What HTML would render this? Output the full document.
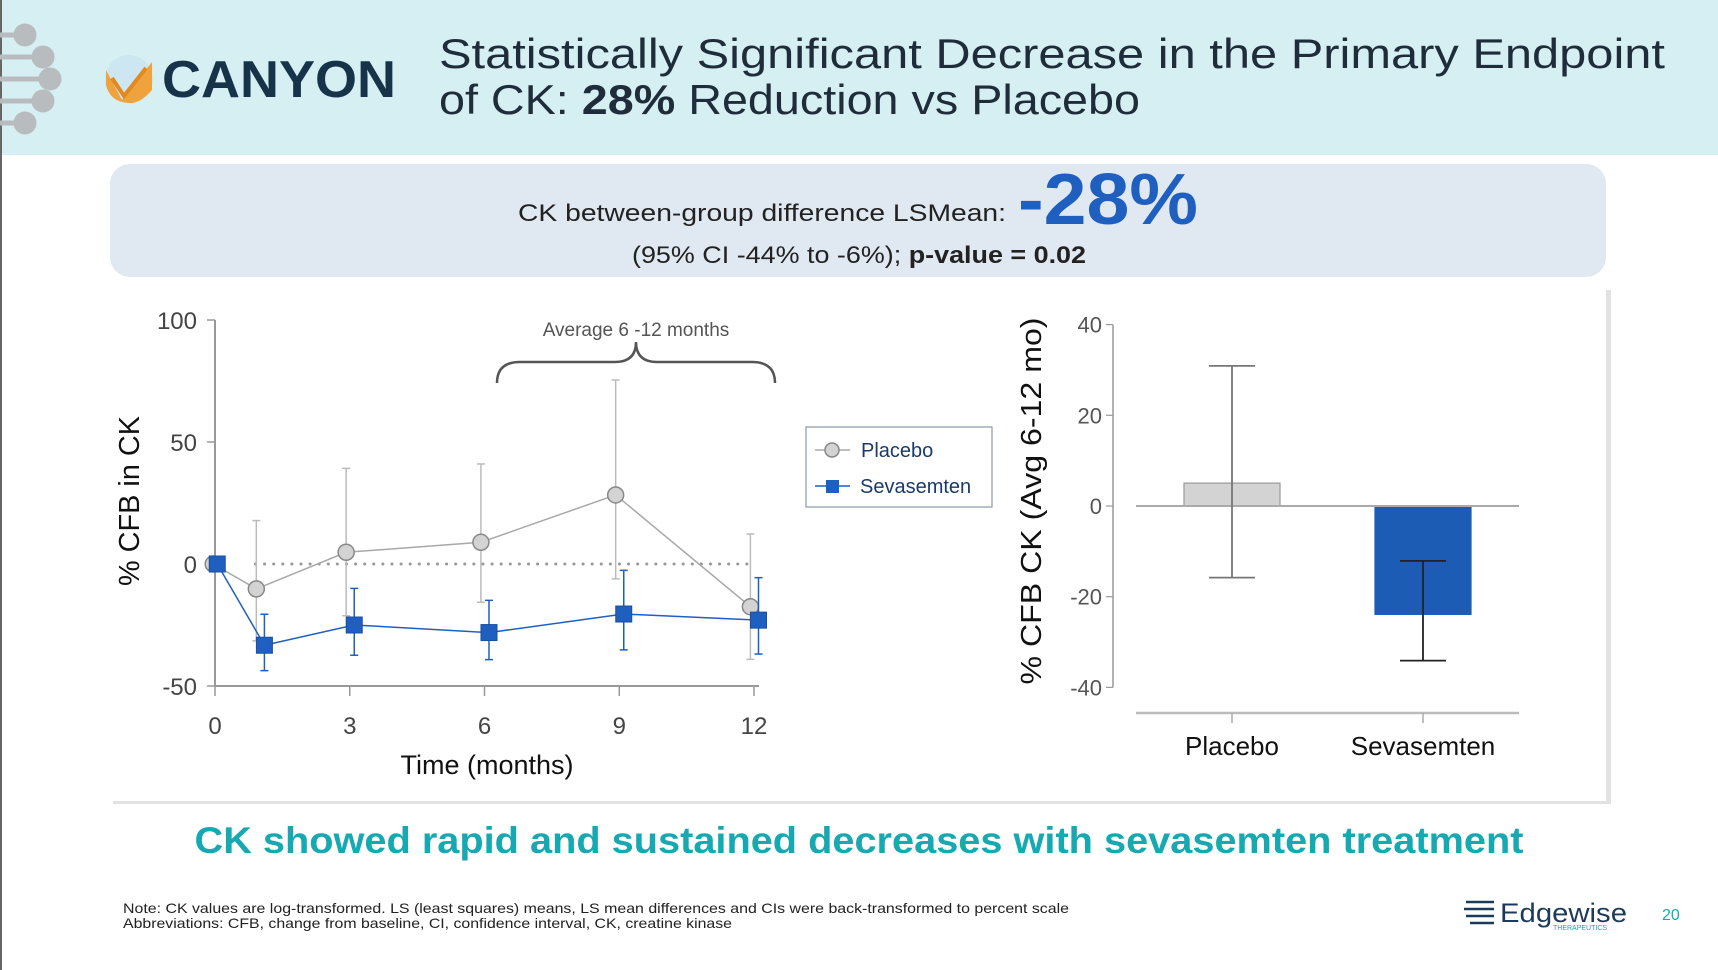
<!DOCTYPE html>
<html><head><meta charset="utf-8"><style>
html,body{margin:0;padding:0;background:#fff}
svg{display:block;font-family:"Liberation Sans",sans-serif}
</style></head><body>
<svg id="s" width="1718" height="970" viewBox="0 0 1718 970">
<rect x="0" y="0" width="1718" height="970" fill="#fff"/>
<rect x="0" y="0" width="1718" height="155" fill="#d6eff2"/>
<rect x="0" y="0" width="2" height="970" fill="#666"/>
<g fill="#b9bcbf" stroke="#b9bcbf" stroke-width="5">
<line x1="0" y1="35" x2="25" y2="35"/><circle cx="25" cy="35" r="9"/>
<line x1="0" y1="57" x2="43" y2="57"/><circle cx="43" cy="57" r="9"/>
<line x1="0" y1="79" x2="50" y2="79"/><circle cx="50" cy="79" r="9"/>
<line x1="0" y1="101" x2="43" y2="101"/><circle cx="43" cy="101" r="9"/>
<line x1="0" y1="123" x2="25" y2="123"/><circle cx="25" cy="123" r="9"/>
</g>
<g>
<ellipse cx="129" cy="79" rx="24" ry="24" fill="#cde7f2"/>
<path d="M106 70 L122 100 L152 62 L152 90 Q140 104 129 103 Q110 102 106 85 Z" fill="#f0a23c"/>
<path d="M112 78 L124 96 L146 68" fill="none" stroke="#e08a20" stroke-width="4"/>
<text x="162" y="97" font-size="52" font-weight="bold" fill="#163349" textLength="234" lengthAdjust="spacingAndGlyphs">CANYON</text>
</g>
<g fill="#1f2d3a" font-size="42">
<text x="439" y="68" textLength="1226" lengthAdjust="spacingAndGlyphs">Statistically Significant Decrease in the Primary Endpoint</text>
<text x="439" y="114" textLength="701" lengthAdjust="spacingAndGlyphs">of CK: <tspan font-weight="bold">28%</tspan> Reduction vs Placebo</text>
</g>
<rect x="110" y="164" width="1496" height="113" rx="20" fill="#e0e8f1"/>
<text x="518" y="221" font-size="24" fill="#222" textLength="488" lengthAdjust="spacingAndGlyphs">CK between-group difference LSMean:</text>
<text x="1018" y="224" font-size="72" font-weight="bold" fill="#1f5fbf" textLength="180" lengthAdjust="spacingAndGlyphs">-28%</text>
<text x="632" y="263" font-size="24" fill="#222" textLength="454" lengthAdjust="spacingAndGlyphs">(95% CI  -44% to -6%); <tspan font-weight="bold">p-value = 0.02</tspan></text>
<rect x="113" y="290" width="1498" height="514" fill="#e2e2e2"/>
<rect x="110" y="287" width="1496" height="514" fill="#fff"/>
<g id="left"></g>
<g id="right"></g>
<text x="859" y="853" text-anchor="middle" font-size="37" font-weight="bold" fill="#17a9b1" textLength="1329" lengthAdjust="spacingAndGlyphs">CK showed rapid and sustained decreases with sevasemten treatment</text>
<text x="123" y="913" font-size="14" fill="#222" textLength="946" lengthAdjust="spacingAndGlyphs">Note: CK values are log-transformed. LS (least squares) means, LS mean differences and CIs were back-transformed to percent scale</text>
<text x="123" y="928" font-size="14" fill="#222" textLength="609" lengthAdjust="spacingAndGlyphs">Abbreviations: CFB, change from baseline, CI, confidence interval, CK, creatine kinase</text>
<g>
<g stroke="#1e3a5a" stroke-width="2.5"><line x1="1466" y1="902" x2="1494" y2="902"/><line x1="1464" y1="909" x2="1494" y2="909"/><line x1="1466" y1="916" x2="1494" y2="916"/><line x1="1470" y1="923" x2="1494" y2="923"/></g>
<text x="1500" y="922" font-size="27" fill="#1e3a5a" textLength="127" lengthAdjust="spacingAndGlyphs">Edgewise</text>
<text x="1553" y="930" font-size="7" fill="#17a9b1">THERAPEUTICS</text>
</g>
<text x="1662" y="920" font-size="16" fill="#17a9b1">20</text>
</svg>
<script>
// Line chart data
const months = [0, 1, 3, 6, 9, 12];
const placeboMean = [0, -10.2, 4.8, 8.9, 28.3, -17.5];
const placeboHi = [0, 17.8, 39.2, 41, 75.4, 12.3];
const placeboLo = [0, -31.5, -21.2, -15.7, -6.1, -39.1];
const sevaMean = [0, -33.3, -25, -28.1, -20.5, -23];
const sevaHi = [0, -20.6, -10, -14.9, -2.6, -5.6];
const sevaLo = [0, -43.7, -37.4, -39.2, -35.2, -36.9];
const yTicksL = [100, 50, 0, -50];
const xTicksL = [0, 3, 6, 9, 12];
// Bar chart data
const barCats = ["Placebo", "Sevasemten"];
const barVals = [5.05, -23.9];
const barHi = [30.9, -12.1];
const barLo = [-15.8, -34.1];
const yTicksR = [40, 20, 0, -20, -40];

const NS = "http://www.w3.org/2000/svg";
function mk(parent, tag, attrs, txt) {
  const e = document.createElementNS(NS, tag);
  for (const k in attrs) e.setAttribute(k, attrs[k]);
  if (txt !== undefined) e.textContent = txt;
  parent.appendChild(e);
  return e;
}
const L = document.getElementById("left");
const xL = m => 215 + m * (754 - 215) / 12;
const yL = v => 564 - v * 122 / 50;
let el;
el = mk(L, "line", {x1: 215, y1: yL(100), x2: 215, y2: 686, stroke: "#999", "stroke-width": 2});


el = mk(L, "line", {x1: 215, y1: 686, x2: 759, y2: 686, stroke: "#999", "stroke-width": 2});


yTicksL.forEach(t => {
  mk(L, "line", {x1: 207, y1: yL(t), x2: 215, y2: yL(t), stroke: "#999", "stroke-width": 1.5});
  el = mk(L, "text", {x: 197, y: yL(t) + 9, "text-anchor": "end", "font-size": 24, fill: "#444"}, String(t));
  
  
});
xTicksL.forEach(t => {
  mk(L, "line", {x1: xL(t), y1: 686, x2: xL(t), y2: 696, stroke: "#999", "stroke-width": 1.5});
  el = mk(L, "text", {x: xL(t), y: 734, "text-anchor": "middle", "font-size": 24, fill: "#444"}, String(t));
  
  
});
el = mk(L, "line", {x1: xL(0.9), y1: yL(0), x2: xL(12), y2: yL(0), stroke: "#999", "stroke-width": 3, "stroke-dasharray": "0.1 9", "stroke-linecap": "round"});


el = mk(L, "text", {x: 0, y: 0, "text-anchor": "middle", "font-size": 29, fill: "#111", transform: "translate(139 501) rotate(-90)", textLength: 170, lengthAdjust: "spacingAndGlyphs"}, "% CFB in CK");


el = mk(L, "text", {x: 487, y: 774, "text-anchor": "middle", "font-size": 27, fill: "#111"}, "Time (months)");


el = mk(L, "path", {d: "M497 383 Q497 362 520 362 L615 362 Q636 362 636 342 Q636 362 657 362 L752 362 Q775 362 775 383", fill: "none", stroke: "#555", "stroke-width": 2.5});


el = mk(L, "text", {x: 636, y: 336, "text-anchor": "middle", "font-size": 19, fill: "#555"}, "Average 6 -12 months");


function series(mean, hi, lo, off, color, ecolor, name, square) {
  const g = mk(L, "g", {});
  
  
  months.forEach((m, i) => {
    if (i === 0) return;
    const x = xL(m + off);
    mk(g, "line", {x1: x, y1: yL(hi[i]), x2: x, y2: yL(lo[i]), stroke: ecolor, "stroke-width": 1.5});
    mk(g, "line", {x1: x - 4, y1: yL(hi[i]), x2: x + 4, y2: yL(hi[i]), stroke: ecolor, "stroke-width": 1.5});
    mk(g, "line", {x1: x - 4, y1: yL(lo[i]), x2: x + 4, y2: yL(lo[i]), stroke: ecolor, "stroke-width": 1.5});
  });
  mk(g, "polyline", {points: months.map((m, i) => xL(m + (i ? off : off * 0.5)) + "," + yL(mean[i])).join(" "), fill: "none", stroke: color, "stroke-width": 1.5});
  months.forEach((m, i) => {
    const x = xL(m + (i ? off : off * 0.5)), y = yL(mean[i]);
    let p;
    if (square) p = mk(g, "rect", {x: x - 8, y: y - 8, width: 16, height: 16, fill: "#1f5fbf", stroke: "#1a4fa0"});
    else p = mk(g, "circle", {cx: x, cy: y, r: 8, fill: "#d3d3d3", stroke: "#888", "stroke-width": 1.5});
    
    
  });
}
series(placeboMean, placeboHi, placeboLo, -0.08, "#a8a8a8", "#bbb", "placebo", false);
series(sevaMean, sevaHi, sevaLo, 0.1, "#1f5fbf", "#1f5fbf", "sevasemten", true);
const lg = mk(L, "g", {});


mk(lg, "rect", {x: 806, y: 427, width: 186, height: 80, fill: "#fff", stroke: "#8a9aa0", "stroke-width": 1.2});
mk(lg, "line", {x1: 815, y1: 450, x2: 850, y2: 450, stroke: "#a8a8a8", "stroke-width": 1.5});
mk(lg, "circle", {cx: 832, cy: 450, r: 7, fill: "#d3d3d3", stroke: "#888", "stroke-width": 1.5});
el = mk(lg, "text", {x: 861, y: 457, "font-size": 20, fill: "#1a3a6a"}, "Placebo");


mk(lg, "line", {x1: 815, y1: 486, x2: 850, y2: 486, stroke: "#1f5fbf", "stroke-width": 1.5});
mk(lg, "rect", {x: 826, y: 480, width: 13, height: 13, fill: "#1f5fbf"});
el = mk(lg, "text", {x: 860, y: 493, "font-size": 20, fill: "#1a3a6a"}, "Sevasemten");



const R = document.getElementById("right");
const yR = v => 506 - v * 90.7 / 20;
const xR = i => [1232, 1423][i];
el = mk(R, "line", {x1: 1113, y1: yR(40), x2: 1113, y2: yR(-40), stroke: "#999", "stroke-width": 1.5});


yTicksR.forEach(t => {
  mk(R, "line", {x1: 1106, y1: yR(t), x2: 1113, y2: yR(t), stroke: "#999", "stroke-width": 1.2});
  el = mk(R, "text", {x: 1102, y: yR(t) + 8, "text-anchor": "end", "font-size": 22, fill: "#555"}, String(t));
  
  
});
el = mk(R, "line", {x1: 1136, y1: 713, x2: 1519, y2: 713, stroke: "#bbb", "stroke-width": 2.5});


const barColors = ["#d3d3d3", "#1c5cb5"];
const barStroke = ["#999", "#1c5cb5"];
const errColors = ["#777", "#222"];
barCats.forEach((c, i) => {
  const x = xR(i), v = barVals[i];
  const b = mk(R, "rect", {x: x - 48, y: Math.min(yR(v), yR(0)), width: 96, height: Math.abs(yR(v) - yR(0)), fill: barColors[i], stroke: barStroke[i], "stroke-width": 1.2});
  
  
  mk(R, "line", {x1: x, y1: 713, x2: x, y2: 723, stroke: "#aaa", "stroke-width": 1.5});
  el = mk(R, "text", {x: x, y: 755, "text-anchor": "middle", "font-size": 26, fill: "#111"}, c);
  
  
});
el = mk(R, "line", {x1: 1136, y1: yR(0), x2: 1519, y2: yR(0), stroke: "#aaa", "stroke-width": 2});


barCats.forEach((c, i) => {
  const x = xR(i);
  const g = mk(R, "g", {stroke: errColors[i], "stroke-width": 1.8});
  
  
  mk(g, "line", {x1: x, y1: yR(barHi[i]), x2: x, y2: yR(barLo[i])});
  mk(g, "line", {x1: x - 23, y1: yR(barHi[i]), x2: x + 23, y2: yR(barHi[i])});
  mk(g, "line", {x1: x - 23, y1: yR(barLo[i]), x2: x + 23, y2: yR(barLo[i])});
});
el = mk(R, "text", {x: 0, y: 0, "text-anchor": "middle", "font-size": 29, fill: "#111", transform: "translate(1041 501) rotate(-90)", textLength: 367, lengthAdjust: "spacingAndGlyphs"}, "% CFB CK  (Avg 6-12 mo)");


</script>
</body></html>
